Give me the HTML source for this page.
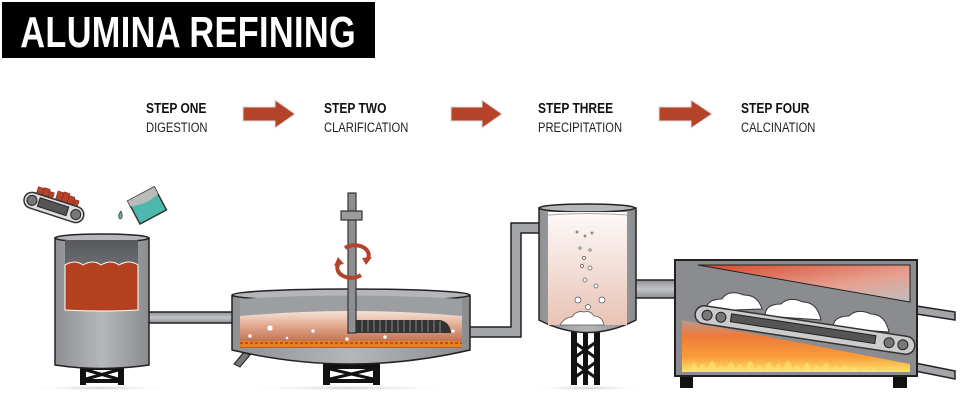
<!DOCTYPE html>
<html><head><meta charset="utf-8"><style>
html,body{margin:0;padding:0;background:#fff;}
svg{display:block;}
.st{font-family:"Liberation Sans",sans-serif;font-weight:bold;font-size:15px;fill:#111;}
.sb{font-family:"Liberation Sans",sans-serif;font-size:14px;fill:#222;}
</style></head><body>
<svg width="960" height="402" viewBox="0 0 960 402" xmlns="http://www.w3.org/2000/svg">
<defs>
<linearGradient id="metal" x1="0" x2="1"><stop offset="0" stop-color="#8e9094"/><stop offset=".5" stop-color="#b4b6b9"/><stop offset="1" stop-color="#8a8c90"/></linearGradient>
<linearGradient id="dark" x1="0" y1="0" x2="0" y2="1"><stop offset="0" stop-color="#58595c"/><stop offset="1" stop-color="#8c8e91"/></linearGradient>
<linearGradient id="pipe" x1="0" y1="0" x2="0" y2="1"><stop offset="0" stop-color="#8d8f92"/><stop offset=".5" stop-color="#c2c4c6"/><stop offset="1" stop-color="#8d8f92"/></linearGradient>
<linearGradient id="clar" x1="0" y1="0" x2="0" y2="1"><stop offset="0" stop-color="#f6e3da"/><stop offset=".4" stop-color="#e2a98e"/><stop offset="1" stop-color="#b25a38"/></linearGradient>
<linearGradient id="prec" x1="0" y1="0" x2="0" y2="1"><stop offset="0" stop-color="#fdfafa"/><stop offset="1" stop-color="#e8c3b3"/></linearGradient>
<linearGradient id="hot" x1="0" y1="0" x2="1" y2="1"><stop offset="0" stop-color="#d8472a"/><stop offset=".6" stop-color="#e6a090"/><stop offset="1" stop-color="#bfbfc1"/></linearGradient>
<linearGradient id="fire" x1="0" y1="0" x2="0" y2="1"><stop offset="0" stop-color="#b89a90"/><stop offset=".3" stop-color="#f07a3a"/><stop offset=".7" stop-color="#f99a3a"/><stop offset="1" stop-color="#fde36a"/></linearGradient>
<radialGradient id="shadow" cx=".5" cy=".5" r=".5"><stop offset="0" stop-color="#ccc"/><stop offset="1" stop-color="#fff" stop-opacity="0"/></radialGradient>
</defs>

<rect x="2" y="2" width="373" height="56" fill="#000"/>
<text x="188" y="47" text-anchor="middle" font-family="Liberation Sans,sans-serif" font-weight="bold" font-size="44" fill="#fff" transform="translate(188 0) scale(0.78 1) translate(-188 0)" textLength="430">ALUMINA REFINING</text>

<text class="st" x="146" y="113" transform="translate(146 0) scale(.8 1) translate(-146 0)">STEP ONE</text>
<text class="sb" x="146" y="132" transform="translate(146 0) scale(.8 1) translate(-146 0)">DIGESTION</text>
<text class="st" x="324" y="113" transform="translate(324 0) scale(.8 1) translate(-324 0)">STEP TWO</text>
<text class="sb" x="324" y="132" transform="translate(324 0) scale(.8 1) translate(-324 0)">CLARIFICATION</text>
<text class="st" x="538" y="113" transform="translate(538 0) scale(.8 1) translate(-538 0)">STEP THREE</text>
<text class="sb" x="538" y="132" transform="translate(538 0) scale(.8 1) translate(-538 0)">PRECIPITATION</text>
<text class="st" x="741" y="113" transform="translate(741 0) scale(.8 1) translate(-741 0)">STEP FOUR</text>
<text class="sb" x="741" y="132" transform="translate(741 0) scale(.8 1) translate(-741 0)">CALCINATION</text>
<g fill="#b5432a" stroke="#ddd" stroke-width="1">
<polygon points="243,107 275,107 275,100 295,114 275,128 275,121 243,121"/>
<polygon points="451,107 482,107 482,100 502,114 482,128 482,121 451,121"/>
<polygon points="659,107 691,107 691,100 712,114 691,128 691,121 659,121"/>
</g>

<ellipse cx="100" cy="388" rx="75" ry="3" fill="url(#shadow)"/>
<ellipse cx="350" cy="388" rx="110" ry="3" fill="url(#shadow)"/>
<ellipse cx="588" cy="388" rx="60" ry="3" fill="url(#shadow)"/>

<rect x="145" y="312" width="92" height="11" fill="url(#pipe)" stroke="#222" stroke-width="1.5"/>
<path d="M466,327 H511 V223 H542 V233 H521 V337 H466 Z" fill="#a3a5a8" stroke="#222" stroke-width="1.5"/>
<rect x="632" y="280" width="45" height="18" fill="url(#pipe)" stroke="#222" stroke-width="1.5"/>

<g transform="rotate(18 52 210)">
<g fill="#b5432a" stroke="#7a2a18" stroke-width=".6">
<rect x="32" y="192" width="6" height="7"/><rect x="38" y="191" width="6" height="8"/><rect x="44" y="193" width="5" height="6"/><rect x="52" y="190" width="6" height="9"/><rect x="58" y="189" width="6" height="10"/><rect x="64" y="191" width="6" height="8"/><rect x="70" y="193" width="5" height="6"/>
</g>
<rect x="22" y="199" width="62" height="16" rx="8" fill="#ddd" stroke="#333" stroke-width="1.5"/>
<rect x="37" y="202" width="30" height="9" fill="#555" stroke="#222"/>
<circle cx="30" cy="207" r="5" fill="#777" stroke="#222"/><circle cx="76" cy="207" r="5" fill="#777" stroke="#222"/>
</g>
<g transform="rotate(-28 148 205)">
<rect x="132" y="192" width="30" height="26" fill="#4fb8ac" stroke="#333" stroke-width="1.5"/>
<path d="M132,192 h30 v8 q-15,4 -30,-2 z" fill="#bbb"/>
</g>
<path d="M121,211 q-4,5 -1,8 q4,-1 1,-8z" fill="#4fb8ac" stroke="#333" stroke-width=".7"/>

<!-- tank 1 -->
<g fill="#111"><rect x="80" y="365" width="6" height="20"/><rect x="118" y="365" width="6" height="20"/><rect x="80" y="365" width="44" height="5"/><rect x="80" y="379" width="44" height="4"/></g>
<path d="M86,370 l32,9 M118,370 l-32,9" stroke="#111" stroke-width="3"/>
<path d="M55,238 V365 Q102,372 149,365 V238 Z" fill="url(#metal)" stroke="#222" stroke-width="1.5"/>
<ellipse cx="102" cy="238" rx="47" ry="4" fill="#b4b6b9" stroke="#222" stroke-width="1.5"/>
<path d="M65,240 V310 Q102,312 138,310 V240 Z" fill="url(#dark)"/>
<path d="M65,265 q10,-6 18,0 q10,-6 18,0 q10,-6 18,0 q10,-6 19,0 V310 Q102,312 65,310 Z" fill="#b3401f" stroke="#fff" stroke-width="1"/>

<!-- clarifier -->
<g fill="#111"><rect x="323" y="360" width="7" height="25"/><rect x="373" y="360" width="7" height="25"/><rect x="323" y="363" width="57" height="6"/><rect x="323" y="379" width="57" height="4"/></g>
<path d="M330,369 l43,10 M373,369 l-43,10" stroke="#111" stroke-width="3"/>
<path d="M244,352 l-10,12 6,3 10,-12z" fill="#777" stroke="#222"/>
<path d="M232,296 V350 Q350,378 470,350 V296 Z" fill="url(#metal)" stroke="#222" stroke-width="1.5"/>
<ellipse cx="351" cy="295" rx="119" ry="6" fill="#b4b6b9" stroke="#222" stroke-width="1.5"/>
<path d="M240,299 V348 H462 V299 Q351,292 240,299Z" fill="#9c9ea1"/>
<path d="M240,316 Q351,306 462,316 V348 H240 Z" fill="url(#clar)"/>
<rect x="240" y="341" width="222" height="6" fill="#e8801c"/>
<path d="M240,343 h222" stroke="#a5451c" stroke-width="1.5" stroke-dasharray="3 2"/>
<path d="M356,320 H440 Q450,322 451,333 H356Z" fill="#333"/>
<g stroke="#888" stroke-width="1"><path d="M362,320v12M368,320v12M374,320v12M380,320v12M386,320v12M392,320v12M398,320v12M404,320v12M410,320v12M416,320v12M422,320v12M428,320v12M434,320v12M440,321v12"/></g>
<g fill="#fff" stroke="#c88" stroke-width=".5"><circle cx="270" cy="328" r="3"/><circle cx="250" cy="336" r="2"/><circle cx="313" cy="331" r="2"/><circle cx="385" cy="337" r="2"/><circle cx="453" cy="331" r="2"/><circle cx="347" cy="339" r="2"/><circle cx="287" cy="338" r="1.5"/></g>
<rect x="348" y="193" width="8" height="140" fill="#8d8f92" stroke="#333" stroke-width="1.2"/>
<rect x="341" y="211" width="21" height="9" fill="#9a9c9f" stroke="#333" stroke-width="1.2"/>
<path d="M345,248 a14,10 0 0 1 22,12" fill="none" stroke="#b5432a" stroke-width="4"/>
<polygon points="362,258 372,257 366,265" fill="#b5432a"/>
<path d="M361,275 a14,10 0 0 1 -22,-12" fill="none" stroke="#b5432a" stroke-width="4"/>
<polygon points="344,264 334,266 338,257" fill="#b5432a"/>

<!-- precipitation tank -->
<g fill="#111"><rect x="571" y="330" width="6" height="55"/><rect x="583" y="330" width="5" height="55"/><rect x="594" y="330" width="6" height="55"/></g>
<path d="M574,342 l22,16 M596,342 l-22,16 M574,362 l22,16 M596,362 l-22,16" stroke="#111" stroke-width="3"/>
<path d="M539,208 V320 Q587,345 636,320 V208 Z" fill="url(#metal)" stroke="#222" stroke-width="1.5"/>
<ellipse cx="587" cy="208" rx="48" ry="4" fill="#b4b6b9" stroke="#222" stroke-width="1.5"/>
<path d="M548,212 V325 H627 V212Z" fill="url(#prec)"/>
<path d="M548,215 Q587,212 627,215" fill="none" stroke="#aaa"/>
<g fill="#fff" stroke="#555" stroke-width=".7">
<circle cx="577" cy="232" r="1"/><circle cx="585" cy="236" r="1"/><circle cx="592" cy="233" r="1"/><circle cx="580" cy="248" r="1.2"/><circle cx="590" cy="250" r="1.2"/><circle cx="584" cy="258" r="1.5"/><circle cx="582" cy="266" r="1.5"/><circle cx="590" cy="268" r="2"/><circle cx="585" cy="280" r="2"/><circle cx="596" cy="286" r="2"/><circle cx="578" cy="300" r="3"/><circle cx="602" cy="300" r="3"/><circle cx="588" cy="307" r="2.5"/>
</g>
<path d="M560,325 q5,-8 12,-8 q4,-7 12,-5 q6,-2 10,4 q8,0 10,9Z" fill="#fff" stroke="#555" stroke-width=".8"/>

<!-- kiln -->
<rect x="680" y="374" width="13" height="14" fill="#111"/>
<rect x="893" y="374" width="14" height="14" fill="#111"/>
<path d="M910,305 L955,312 V320 L910,313Z M910,362 L955,371 V379 L910,370Z" fill="#a3a5a8" stroke="#222" stroke-width="1.5"/>
<rect x="675" y="260" width="242" height="116" fill="#8a8c90" stroke="#222" stroke-width="2"/>
<polygon points="698,265 910,265 910,302" fill="url(#hot)" stroke="#222"/>
<polygon points="682,320 910,364 910,372 682,372" fill="url(#fire)"/>
<g fill="#fde36a" opacity=".7"><path d="M690,372 q4,-20 8,0 q4,-16 9,0 q5,-22 10,0 q4,-14 9,0 q5,-20 10,0 q4,-16 9,0 q5,-22 10,0 q4,-14 9,0 q5,-20 10,0 q4,-16 9,0 q5,-22 10,0 q4,-14 9,0 q5,-18 10,0 q4,-14 9,0 q5,-18 10,0 q4,-12 9,0 q5,-14 10,0 q4,-10 9,0 q5,-10 10,0 q4,-8 9,0Z"/></g>
<g fill="#fff" stroke="#333" stroke-width="1">
<path d="M706,311 q0,-12 16,-12 q6,-10 22,-4 q14,0 18,14Z"/>
<path d="M765,316 q0,-12 16,-12 q8,-8 22,-2 q14,0 18,18Z"/>
<path d="M833,328 q0,-12 16,-12 q8,-8 22,-2 q14,0 18,18Z"/>
</g>
<g transform="rotate(8.6 805 330)">
<rect x="694" y="321" width="222" height="18" rx="9" fill="#ccc" stroke="#333" stroke-width="1.5"/>
<rect x="730" y="325" width="146" height="8" fill="#555" stroke="#222"/>
<circle cx="706" cy="330" r="5" fill="#777" stroke="#222"/><circle cx="720" cy="330" r="5" fill="#777" stroke="#222"/>
<circle cx="890" cy="330" r="5" fill="#777" stroke="#222"/><circle cx="904" cy="330" r="5" fill="#777" stroke="#222"/>
</g>
</svg>
</body></html>
